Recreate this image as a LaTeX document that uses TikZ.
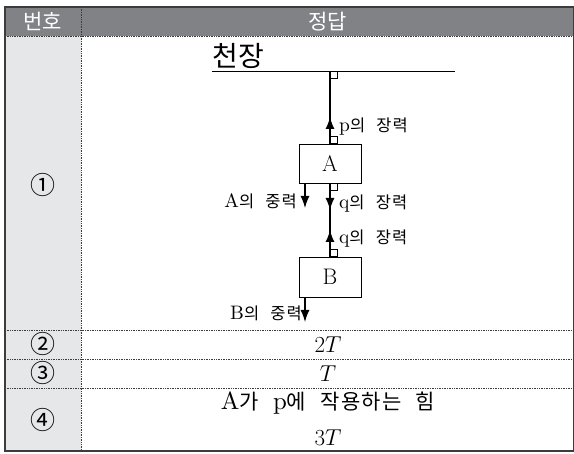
\RequirePackage{fix-cm}
\documentclass[tikz,border=0pt]{standalone}
\usepackage{fontspec}
\newfontfamily\kr{Noto Sans CJK KR}
\newfontfamily\krw{Noto Sans CJK KR}[WordSpace=2.4, LetterSpace=6]
\newfontfamily\latf{lmroman10-regular.otf}[Scale=1.18]
\newcommand\lat[1]{{\latf #1}}
\usetikzlibrary{positioning,arrows.meta}
\definecolor{headgray}{RGB}{128,130,134}
\definecolor{sidegray}{RGB}{230,231,232}
\definecolor{rulegray}{RGB}{60,60,60}

\begin{document}
\begin{tikzpicture}[x=1pt,y=-1pt,
	headtext/.style={text=white, inner sep=0pt, font=\kr\fontsize{21}{22}\selectfont},
	numtext/.style={inner sep=0pt, font=\kr\fontsize{25}{25}\selectfont},
	anstext/.style={inner sep=0pt, font=\fontsize{23}{24}\selectfont},
	body/.style={draw, rectangle, line width=0.8pt, minimum width=62pt, minimum height=39pt, inner sep=0pt, font=\fontsize{22.5}{24}\selectfont},
	forcelabel/.style={inner sep=0pt, font=\krw\fontsize{16.5}{17}\selectfont},
	force/.style={line width=1.3pt, -{Latex[length=12pt,width=9pt]}},
	rope/.style={line width=1.2pt},
	pointbox/.style={line width=0.6pt},
	dotline/.style={densely dotted, rulegray, line width=0.7pt}
	]
	\useasboundingbox (0,0) rectangle (574,454);
	\fill[headgray] (5,7) rectangle (574,36);
	\fill[sidegray] (5,36) rectangle (81,451);
	\draw[dotline] (5,36) -- (574,36);
	\draw[dotline] (5,330) -- (574,330);
	\draw[dotline] (5,359) -- (574,359);
	\draw[dotline] (5,388) -- (574,388);
	\draw[dotline] (81,7) -- (81,451);
	\draw[rulegray, line width=1.3pt] (5,7) rectangle (573.5,451);
	
	\node[headtext] (num) at (42.5,21.5) {번호};
	\node[headtext] (ans) at (327.5,21.5) {정답};
	\node[numtext] (n1) at (43,185) {①};
	\node[numtext] (n2) at (43,344.5) {②};
	\node[numtext] (n3) at (43,373.5) {③};
	\node[numtext] (n4) at (43,420) {④};
	\node[anstext] (a2) at (328,344.5) {$2T$};
	\node[anstext] (a3) at (328,373.5) {$T$};
	\node[anstext, font=\krw\fontsize{21}{22}\selectfont] (a4) at (328,403) {\lat{A}가 \lat{p}에 작용하는 힘};
	\node[anstext] (a5) at (328,438) {$3T$};
	
	\node[inner sep=0pt, font=\kr\fontsize{28}{28}\selectfont] (ceil) at (238.5,56) {천장};
	\coordinate (cl) at (212,71);
	\coordinate (cr) at (455,71);
	\coordinate (top) at (330,71);
	\draw[line width=0.8pt] (cl) -- (cr);
	
	\node[body] (A) at (330,163.5) {A};
	\node[body, minimum height=40pt] (B) at (330,277) {B};
	
	\coordinate (ptip) at (330,117);
	\coordinate (qtipA) at (330,210);
	\coordinate (qtipB) at (330,230);
	\coordinate (Aw) at (305,183);
	\coordinate (Awtip) at (305,208);
	\coordinate (Bw) at (305,297);
	\coordinate (Bwtip) at (305,322);
	
	\draw[rope] (top) -- (A.north);
	\draw[rope] (A.south) -- (B.north);
	\draw[force] (A.north) -- (ptip);
	\draw[force] (A.south) -- (qtipA);
	\draw[force] (B.north) -- (qtipB);
	\draw[force] (Aw) -- (Awtip);
	\draw[force] (Bw) -- (Bwtip);
	
	\draw[pointbox] (top) rectangle ++(7,7);
	\draw[pointbox] (A.north) rectangle ++(7,-7);
	\draw[pointbox] (A.south) rectangle ++(7,7);
	\draw[pointbox] (B.north) rectangle ++(7,-7);
	
	\node[forcelabel, anchor=west] (pA) at (339,127) {\lat{p}의 장력};
	\node[forcelabel, anchor=east] (gA) at (297,201) {\lat{A}의 중력};
	\node[forcelabel, anchor=west] (qA) at (339,204) {\lat{q}의 장력};
	\node[forcelabel, anchor=west] (qB) at (339,239) {\lat{q}의 장력};
	\node[forcelabel, anchor=east] (gB) at (302,313) {\lat{B}의 중력};
\end{tikzpicture}
\end{document}
